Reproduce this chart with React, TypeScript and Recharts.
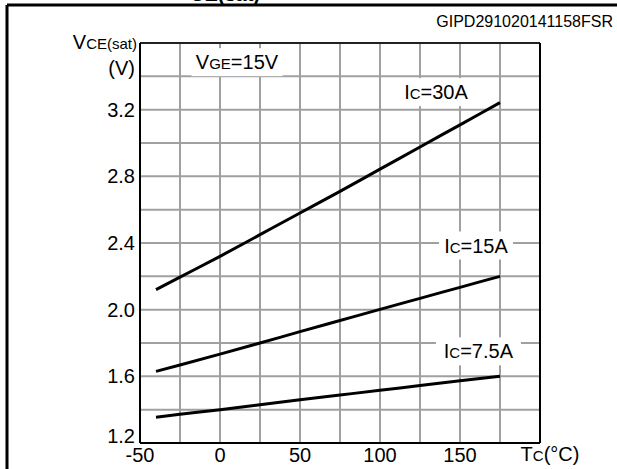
import React from "react"
import { LineChart, Line, XAxis, YAxis, CartesianGrid, ReferenceLine, ReferenceDot } from "recharts"

// case temperature (°C)
const temps = [-40, -25, 0, 25, 50, 75, 100, 125, 150, 175]

// VCE(sat) in volts for each collector current
const vce30A = [2.12, 2.195, 2.32, 2.45, 2.58, 2.71, 2.843, 2.976, 3.109, 3.242]
const vce15A = [1.63, 1.668, 1.733, 1.8, 1.868, 1.935, 2.002, 2.068, 2.134, 2.2]
const vce7p5A = [1.355, 1.372, 1.4, 1.43, 1.46, 1.488, 1.516, 1.545, 1.573, 1.6]

const xTicks = [-50, -25, 0, 25, 50, 75, 100, 125, 150, 175, 200]
const xTickLabels = ["-50", "", "0", "", "50", "", "100", "", "150", "", "Tc(°C)"]

const yTicks = [1.2, 1.4, 1.6, 1.8, 2.0, 2.2, 2.4, 2.6, 2.8, 3.0, 3.2, 3.4, 3.6]
const yTickLabels = ["1.2", "", "1.6", "", "2.0", "", "2.4", "", "2.8", "", "3.2", "(V)", "VCE(sat)"]

// curve annotations: main text, subscript, rest, position in data units
const notes = [
    { main: "V", sub: "GE", rest: "=15V", x: 10.6, y: 3.485 },
    { main: "I", sub: "C", rest: "=30A", x: 135, y: 3.305 },
    { main: "I", sub: "C", rest: "=15A", x: 160, y: 2.385 },
    { main: "I", sub: "C", rest: "=7.5A", x: 161.5, y: 1.75 },
]

const data = temps.map((t, i) => ({ t, a30: vce30A[i], a15: vce15A[i], a7: vce7p5A[i] }))

const FONT = "'Liberation Sans', Arial, sans-serif"

const YTick = (props: any) => {
    const { x, y, payload } = props
    const idx = yTicks.findIndex((v) => Math.abs(v - payload.value) < 1e-6)
    const label = yTickLabels[idx] || ""
    if (!label) return null
    if (label === "VCE(sat)") {
        return (
            <text x={x + 2} y={y} dy={6} textAnchor="end" fontFamily={FONT} fontSize={20} fill="#000">
                V<tspan fontSize={15}>CE(sat)</tspan>
            </text>
        )
    }
    // the bottom label sits on the axis, the others are centred on their line
    const dy = label === "(V)" ? -1 : idx === 0 ? 0 : 7
    return (
        <text x={x} y={y} dy={dy} textAnchor="end" fontFamily={FONT} fontSize={20} fill="#000">
            {label}
        </text>
    )
}

const XTick = (props: any) => {
    const { x, y, payload } = props
    const idx = xTicks.indexOf(payload.value)
    const label = xTickLabels[idx] || ""
    if (!label) return null
    if (label === "Tc(°C)") {
        return (
            <text x={x + 10} y={y} dy={16} textAnchor="middle" fontFamily={FONT} fontSize={20} fill="#000">
                T<tspan fontSize={15}>C</tspan>(°C)
            </text>
        )
    }
    return (
        <text x={x} y={y} dy={17} textAnchor="middle" fontFamily={FONT} fontSize={20} fill="#000">
            {label}
        </text>
    )
}

const noteShape = (n: (typeof notes)[number]) => (p: any) => {
    const w = n.rest.length * 11 + n.sub.length * 10 + (n.main === "V" ? 13 : 6) + 14
    return (
        <g>
            <rect x={p.cx - w / 2} y={p.cy - 14} width={w} height={28} fill="#fff" />
            <text x={p.cx} y={p.cy} dy={7} textAnchor="middle" fontFamily={FONT} fontSize={20} fill="#000">
                {n.main}
                <tspan fontSize={15}>{n.sub}</tspan>
                {n.rest}
            </text>
        </g>
    )
}

export default function App() {
    return (
        <div style={{ position: "relative", width: 617, height: 469, overflow: "hidden", background: "#fff" }}>
            <style>{"body{margin:0}"}</style>
            <LineChart
                width={617}
                height={469}
                data={data}
                margin={{ top: 43, right: 77, bottom: 0, left: 0 }}
            >
                <CartesianGrid stroke="#a0a0a0" strokeWidth={2} />
                <XAxis
                    dataKey="t"
                    type="number"
                    domain={[-50, 200]}
                    ticks={xTicks}
                    tick={<XTick />}
                    tickSize={0}
                    tickMargin={2}
                    axisLine={{ stroke: "#000", strokeWidth: 2 }}
                    interval={0}
                    height={26}
                />
                <YAxis
                    type="number"
                    domain={[1.2, 3.6]}
                    ticks={yTicks}
                    tick={<YTick />}
                    tickSize={0}
                    tickMargin={5}
                    axisLine={{ stroke: "#000", strokeWidth: 2 }}
                    interval={0}
                    width={140}
                />
                <ReferenceLine y={3.6} stroke="#222" strokeWidth={2} />
                <ReferenceLine x={200} stroke="#000" strokeWidth={2} />
                {notes.map((n, i) => (
                    <ReferenceDot key={i} x={n.x} y={n.y} r={0} shape={noteShape(n)} />
                ))}
                <Line type="monotone" dataKey="a30" stroke="#000" strokeWidth={3} dot={false} isAnimationActive={false} />
                <Line type="monotone" dataKey="a15" stroke="#000" strokeWidth={3} dot={false} isAnimationActive={false} />
                <Line type="monotone" dataKey="a7" stroke="#000" strokeWidth={3} dot={false} isAnimationActive={false} />
            </LineChart>
            <svg
                width={617}
                height={469}
                style={{ position: "absolute", left: 0, top: 0, pointerEvents: "none" }}
            >
                <line x1={7} y1={5} x2={617} y2={5} stroke="#000" strokeWidth={3} />
                <line x1={7} y1={5} x2={7} y2={469} stroke="#000" strokeWidth={3} />
                <text x={174} y={-4} fontFamily={FONT} fontWeight="bold" fontSize={22} fill="#000">
                    V
                </text>
                <text x={190} y={1} fontFamily={FONT} fontWeight="bold" fontSize={20} fill="#000">
                    CE(sat)
                </text>
                <text x={613} y={27} textAnchor="end" fontFamily={FONT} fontSize={16} fill="#000">
                    GIPD291020141158FSR
                </text>
            </svg>
        </div>
    )
}
